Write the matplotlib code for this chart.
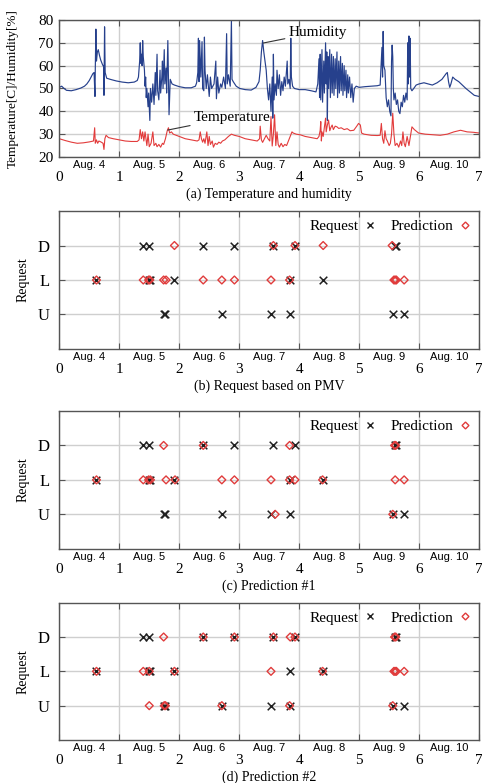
import matplotlib
matplotlib.use("Agg")
import matplotlib.pyplot as plt
from matplotlib.lines import Line2D

SERIF = "Liberation Serif"
SANS = "Liberation Sans"
plt.rcParams["font.family"] = [SERIF, "DejaVu Serif"]

DAY_LABELS = ["Aug. 4", "Aug. 5", "Aug. 6", "Aug. 7", "Aug. 8", "Aug. 9", "Aug. 10"]
LEVEL_NAMES = ["U", "L", "D"]
LEVEL_VALUES = [1, 2, 3]

# humidity [%], x in days from Aug. 4
HUM_T = [0.00, 0.04, 0.08, 0.12, 0.20, 0.28, 0.36, 0.42, 0.46, 0.50, 0.53, 0.56, 0.58, 0.595, 0.60,
         0.61, 0.62, 0.635, 0.65, 0.67, 0.69, 0.72, 0.74, 0.745, 0.755, 0.765, 0.79, 0.85, 0.95, 1.05,
         1.15, 1.25, 1.30, 1.32, 1.34, 1.35, 1.36, 1.37, 1.38, 1.39, 1.40, 1.42, 1.43, 1.44, 1.45,
         1.46, 1.48, 1.49, 1.51, 1.52, 1.54, 1.56, 1.58, 1.60, 1.61, 1.63, 1.64, 1.66, 1.68, 1.69,
         1.71, 1.72, 1.73, 1.75, 1.76, 1.78, 1.79, 1.81, 1.82, 1.83, 1.85, 1.88, 1.92, 2.00, 2.10,
         2.20, 2.27, 2.29, 2.31, 2.32, 2.33, 2.34, 2.36, 2.38, 2.39, 2.41, 2.42, 2.43, 2.45, 2.47,
         2.50, 2.52, 2.54, 2.58, 2.61, 2.62, 2.64, 2.66, 2.69, 2.71, 2.74, 2.77, 2.79, 2.80, 2.82,
         2.85, 2.87, 2.88, 2.90, 2.95, 3.01, 3.10, 3.20, 3.28, 3.33, 3.35, 3.37, 3.39, 3.41, 3.43,
         3.45, 3.47, 3.49, 3.51, 3.53, 3.55, 3.56, 3.57, 3.58, 3.60, 3.62, 3.63, 3.65, 3.67, 3.69,
         3.71, 3.73, 3.75, 3.77, 3.80, 3.81, 3.83, 3.85, 3.86, 3.87, 3.89, 3.92, 4.00, 4.10, 4.20,
         4.28, 4.31, 4.33, 4.34, 4.35, 4.36, 4.38, 4.39, 4.41, 4.42, 4.44, 4.45, 4.46, 4.47, 4.48,
         4.49, 4.51, 4.52, 4.54, 4.55, 4.57, 4.58, 4.60, 4.61, 4.63, 4.64, 4.66, 4.67, 4.69, 4.70,
         4.72, 4.73, 4.75, 4.76, 4.78, 4.79, 4.81, 4.82, 4.84, 4.86, 4.88, 4.90, 4.92, 4.95, 5.00,
         5.10, 5.20, 5.30, 5.35, 5.37, 5.38, 5.39, 5.40, 5.41, 5.43, 5.45, 5.47, 5.49, 5.51, 5.53,
         5.54, 5.55, 5.56, 5.57, 5.58, 5.60, 5.62, 5.64, 5.66, 5.68, 5.70, 5.72, 5.74, 5.76, 5.78,
         5.80, 5.81, 5.82, 5.83, 5.84, 5.85, 5.86, 5.88, 5.91, 5.95, 6.00, 6.08, 6.15, 6.22, 6.30,
         6.38, 6.45, 6.47, 6.49, 6.51, 6.53, 6.56, 6.60, 6.66, 6.72, 6.78, 6.85, 6.92, 7.00]
HUM_V = [50.5, 51.0, 50.0, 49.2, 49.0, 49.5, 50.2, 51.0, 52.0, 53.5, 55.0, 56.5, 57.0, 46.5, 58.0,
         76.0, 62.0, 66.0, 67.0, 64.5, 62.5, 60.5, 59.5, 47.0, 77.0, 57.0, 54.5, 54.0, 53.3, 52.8,
         52.5, 52.8, 53.5, 55.0, 62.0, 70.0, 61.0, 65.0, 60.0, 71.0, 64.0, 58.0, 51.0, 55.0, 46.0,
         50.0, 42.0, 48.0, 36.0, 50.0, 44.0, 52.0, 43.0, 57.0, 47.0, 65.0, 49.0, 45.0, 58.0, 48.0,
         55.0, 62.0, 50.0, 67.0, 52.0, 59.0, 48.0, 71.0, 55.0, 38.5, 54.0, 52.0, 51.5, 50.8, 50.3,
         50.3, 51.0, 52.5, 57.0, 72.0, 53.0, 71.0, 55.0, 70.5, 50.0, 49.0, 72.5, 58.0, 50.0, 56.0,
         46.5, 55.0, 50.0, 52.0, 62.0, 45.5, 55.0, 48.0, 52.0, 50.5, 55.0, 50.0, 74.0, 52.0, 56.0,
         51.0, 80.0, 54.0, 53.0, 51.0, 50.0, 49.5, 49.3, 50.5, 53.0, 58.0, 66.0, 71.0, 66.0, 62.0,
         58.0, 50.0, 45.0, 52.0, 40.0, 55.0, 37.0, 65.0, 45.0, 52.0, 47.0, 58.0, 50.0, 56.0, 47.0,
         53.0, 49.0, 55.0, 51.0, 62.0, 52.0, 54.0, 50.0, 72.0, 55.0, 51.0, 50.0, 49.5, 49.5, 49.0,
         48.5, 52.0, 63.0, 46.0, 65.0, 45.0, 67.0, 44.0, 62.0, 48.0, 70.0, 52.0, 66.0, 36.0, 64.0,
         50.0, 67.0, 46.0, 65.0, 48.0, 64.0, 47.0, 63.0, 50.0, 66.0, 46.0, 62.0, 48.0, 64.0, 49.0,
         61.0, 47.0, 60.0, 49.0, 58.0, 46.0, 56.0, 48.0, 55.0, 46.0, 52.0, 44.0, 50.0, 51.0, 50.5,
         50.8, 51.0, 51.2, 51.5, 62.0, 68.0, 55.0, 75.0, 60.0, 58.0, 46.0, 42.0, 45.0, 40.0, 38.0,
         62.0, 69.0, 64.0, 50.0, 45.0, 48.0, 43.0, 45.0, 40.0, 39.0, 44.0, 42.0, 47.0, 44.0, 48.0,
         45.0, 70.0, 52.0, 73.0, 55.0, 72.0, 50.0, 49.0, 50.0, 51.5, 52.0, 52.5, 52.0, 51.5, 52.5,
         54.0, 56.5, 57.0, 53.0, 50.5, 52.0, 55.0, 54.0, 53.0, 51.5, 50.0, 48.5, 47.0, 46.5]

# temperature [C]
TEMP_T = [0.00, 0.10, 0.20, 0.30, 0.40, 0.50, 0.57, 0.59, 0.60, 0.62, 0.64, 0.66, 0.70, 0.73, 0.745,
          0.76, 0.78, 0.82, 0.90, 1.00, 1.10, 1.20, 1.30, 1.33, 1.35, 1.37, 1.39, 1.41, 1.43, 1.46,
          1.48, 1.50, 1.53, 1.56, 1.58, 1.61, 1.63, 1.66, 1.69, 1.72, 1.74, 1.77, 1.80, 1.82, 1.84,
          1.87, 1.90, 1.95, 2.00, 2.10, 2.20, 2.30, 2.33, 2.35, 2.37, 2.39, 2.41, 2.43, 2.46, 2.48,
          2.50, 2.52, 2.55, 2.57, 2.60, 2.63, 2.66, 2.69, 2.72, 2.76, 2.82, 2.87, 2.92, 3.00, 3.10,
          3.20, 3.30, 3.34, 3.35, 3.37, 3.39, 3.42, 3.45, 3.48, 3.51, 3.53, 3.55, 3.57, 3.59, 3.61,
          3.63, 3.65, 3.67, 3.70, 3.73, 3.76, 3.79, 3.82, 3.85, 3.88, 3.90, 3.95, 4.02, 4.10, 4.20,
          4.30, 4.33, 4.35, 4.36, 4.37, 4.38, 4.40, 4.42, 4.44, 4.45, 4.47, 4.49, 4.51, 4.53, 4.55,
          4.57, 4.60, 4.63, 4.66, 4.70, 4.75, 4.80, 4.85, 4.91, 4.96, 4.99, 5.02, 5.04, 5.08, 5.20,
          5.30, 5.35, 5.37, 5.39, 5.41, 5.43, 5.45, 5.47, 5.50, 5.52, 5.54, 5.56, 5.58, 5.60, 5.63,
          5.66, 5.69, 5.71, 5.73, 5.75, 5.77, 5.80, 5.83, 5.86, 5.88, 5.92, 5.99, 6.10, 6.24, 6.35,
          6.47, 6.58, 6.69, 6.80, 6.91, 7.00]
TEMP_V = [28.0, 27.2, 26.5, 26.0, 26.2, 26.6, 27.0, 32.8, 26.0, 27.5, 26.0, 27.0, 26.5, 26.0, 23.3,
          28.0, 29.5, 28.5, 28.0, 27.5, 27.0, 26.8, 26.8, 27.5, 32.0, 28.0, 31.0, 27.0, 31.0, 25.0,
          30.0, 24.5, 26.0, 31.0, 25.0, 26.0, 24.5, 25.5, 24.3, 26.0, 25.5, 28.0, 31.5, 32.8, 30.5,
          31.0, 30.0, 29.5, 29.0, 28.0, 27.5, 27.0, 27.5, 31.0, 28.0, 26.5, 28.0, 26.0, 31.0, 25.0,
          29.0, 25.5, 27.0, 24.3, 26.0, 25.5, 26.5, 26.0, 27.0, 27.5, 29.0, 30.0, 29.5, 29.0, 28.0,
          27.5, 27.0, 28.0, 33.5, 27.5, 26.4, 28.0, 29.5, 28.0, 27.0, 37.7, 24.8, 30.0, 38.5, 25.0,
          31.0, 25.5, 24.3, 26.0, 24.5, 25.5, 25.0, 27.0, 29.0, 31.0, 30.5, 30.0, 29.7, 29.0, 28.5,
          28.0, 29.0, 31.7, 35.5, 27.0, 31.0, 29.0, 33.0, 37.0, 31.0, 34.0, 36.2, 31.5, 33.0, 34.0,
          32.0, 33.5, 33.2, 32.5, 32.8, 32.0, 32.4, 31.5, 31.7, 33.5, 34.7, 34.0, 30.5, 30.0, 29.5,
          29.4, 29.5, 34.7, 28.0, 26.0, 31.5, 28.0, 27.0, 25.0, 26.0, 30.0, 39.2, 30.0, 25.0, 26.0,
          24.3, 27.0, 25.0, 31.0, 26.0, 24.5, 29.0, 25.0, 30.0, 33.2, 32.0, 30.5, 30.0, 29.7, 29.5,
          30.0, 31.0, 31.7, 31.0, 30.8, 30.5]

# actual requests (same in panels b, c, d), x in days
REQ_D = [1.39, 1.49, 2.40, 2.92, 3.57, 3.93, 5.59, 5.61]
REQ_L = [0.62, 1.49, 1.52, 1.92, 3.84, 4.39]
REQ_U = [1.75, 1.77, 2.71, 3.53, 3.84, 5.56, 5.75]

# (b) request based on PMV
PMV_D = [1.92, 3.57, 3.93, 4.40, 5.55]
PMV_L = [0.62, 1.40, 1.49, 1.51, 1.74, 1.78, 2.40, 2.71, 2.92, 3.53, 3.84, 5.58, 5.60, 5.62, 5.75]
PMV_U = []

# (c) prediction #1
P1_D = [1.74, 2.40, 3.84, 5.59, 5.61]
P1_L = [0.62, 1.40, 1.49, 1.52, 1.78, 1.93, 2.71, 2.92, 3.53, 3.84, 3.93, 4.39, 5.60, 5.75]
P1_U = [3.60, 5.56]

# (d) prediction #2
P2_D = [1.74, 2.40, 2.92, 3.57, 3.85, 3.93, 5.59, 5.61]
P2_L = [0.62, 1.40, 1.50, 1.92, 3.53, 4.39, 5.58, 5.60, 5.62, 5.75]
P2_U = [1.50, 1.75, 1.77, 2.71, 3.84, 5.56]

HUM_COLOR = "#26408c"
TEMP_COLOR = "#e23b3b"
PRED_COLOR = "#e03c3c"
GRID_COLOR = "#cfcfcf"
SPINE_COLOR = "#555555"

LEFT, RIGHT = 0.123, 0.994
PANEL_BOXES = [(0.7995, 0.9745), (0.5543, 0.7305), (0.2992, 0.4751), (0.0549, 0.2303)]
CAPTIONS = ["(a) Temperature and humidity", "(b) Request based on PMV",
            "(c) Prediction #1", "(d) Prediction #2"]
CAPTION_GAP = 0.048


def setup_time_axis(ax):
    ax.set_xlim(0, 7)
    ax.set_xticks(range(8))
    ax.set_xticklabels([str(i) for i in range(8)])
    ax.set_xticks([i + 0.5 for i in range(7)], minor=True)
    ax.set_xticklabels(DAY_LABELS, minor=True, fontfamily=SANS, fontsize=8)
    ax.tick_params(axis="x", which="minor", length=0, pad=2)
    ax.tick_params(axis="x", which="major", labelsize=11, pad=10)
    ax.tick_params(which="major", direction="in", length=4, top=True, right=True,
                   color=SPINE_COLOR)
    ax.tick_params(axis="y", which="major", labelsize=11, pad=4)
    ax.grid(True, which="major", color=GRID_COLOR, linewidth=1.0)
    ax.set_axisbelow(True)
    for spine in ax.spines.values():
        spine.set_color(SPINE_COLOR)
        spine.set_linewidth(1.0)


def plot_weather(ax):
    ax.plot(HUM_T, HUM_V, color=HUM_COLOR, linewidth=0.85)
    ax.plot(TEMP_T, TEMP_V, color=TEMP_COLOR, linewidth=0.8)
    ax.set_ylim(20, 80)
    ax.set_yticks(range(20, 81, 10))
    setup_time_axis(ax)
    ax.set_ylabel("Temperature[C]/Humidity[%]", fontsize=9.5)
    ax.yaxis.set_label_coords(-0.097, 0.5)
    arrow = dict(arrowstyle="-", color="#333333", linewidth=0.8, shrinkA=1, shrinkB=0)
    ax.annotate("Humidity", xy=(3.40, 69.9), xytext=(3.83, 74.7), fontsize=11,
                va="center", ha="left", arrowprops=arrow)
    ax.annotate("Temperature", xy=(1.81, 31.8), xytext=(2.25, 37.5), fontsize=11,
                va="center", ha="left", arrowprops=arrow)


def plot_requests(ax, pred_d, pred_l, pred_u):
    for xs, level in zip([REQ_U, REQ_L, REQ_D], LEVEL_VALUES):
        ax.scatter(xs, [level] * len(xs), marker="x", s=30, color="#202020",
                   linewidths=1.1, zorder=3)
    for xs, level in zip([pred_u, pred_l, pred_d], LEVEL_VALUES):
        ax.scatter(xs, [level] * len(xs), marker="D", s=16, facecolors="none",
                   edgecolors=PRED_COLOR, linewidths=1.0, zorder=4)
    ax.set_ylim(0, 4)
    ax.set_yticks(LEVEL_VALUES)
    ax.set_yticklabels(LEVEL_NAMES)
    setup_time_axis(ax)
    ax.tick_params(axis="y", which="major", labelsize=12, pad=7)
    ax.set_ylabel("Request", fontsize=10)
    ax.yaxis.set_label_coords(-0.072, 0.5)
    handles = [
        Line2D([], [], linestyle="none", marker="x", color="#202020", markersize=5,
               markeredgewidth=1.0, label="Request"),
        Line2D([], [], linestyle="none", marker="D", markerfacecolor="none",
               markeredgecolor=PRED_COLOR, markersize=3.5, markeredgewidth=1.0,
               label="Prediction"),
    ]
    ax.legend(handles=handles, loc="upper right", ncol=2, frameon=False, fontsize=11,
              markerfirst=False, handlelength=0.8, handletextpad=0.3, columnspacing=1.0,
              borderaxespad=0.15)


fig = plt.figure(figsize=(4.82, 7.83), dpi=100)
axes = [fig.add_axes([LEFT, b, RIGHT - LEFT, t - b]) for b, t in PANEL_BOXES]

plot_weather(axes[0])
plot_requests(axes[1], PMV_D, PMV_L, PMV_U)
plot_requests(axes[2], P1_D, P1_L, P1_U)
plot_requests(axes[3], P2_D, P2_L, P2_U)

for (bottom, _), caption in zip(PANEL_BOXES, CAPTIONS):
    fig.text((LEFT + RIGHT) / 2, bottom - CAPTION_GAP, caption, ha="center", va="center",
             fontsize=10)

fig.savefig("out.png", dpi=100)
